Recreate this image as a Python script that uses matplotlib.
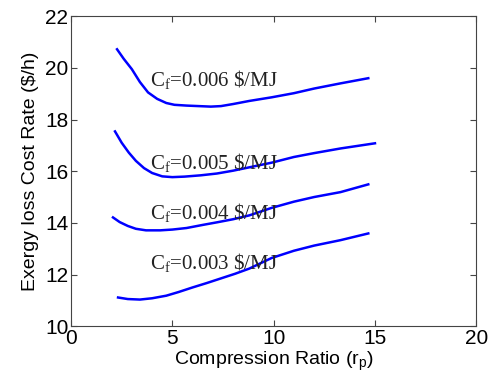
import matplotlib
matplotlib.use("Agg")
import matplotlib.pyplot as plt

# values
x_006 = [2.27, 2.6, 3.0, 3.4, 3.8, 4.25, 4.7, 5.1, 5.7, 6.3, 6.9, 7.4, 8.0, 8.8, 9.9, 11.0, 12.0, 13.3, 14.67]
y_006 = [20.72, 20.35, 19.95, 19.45, 19.05, 18.80, 18.64, 18.57, 18.54, 18.52, 18.50, 18.52, 18.60, 18.72,
         18.86, 19.02, 19.20, 19.40, 19.60]

x_005 = [2.17, 2.5, 2.85, 3.2, 3.6, 4.0, 4.5, 5.0, 5.6, 6.4, 7.2, 8.0, 8.8, 9.9, 11.0, 12.0, 13.3, 15.0]
y_005 = [17.54, 17.10, 16.72, 16.40, 16.12, 15.93, 15.80, 15.77, 15.79, 15.84, 15.91, 16.02, 16.15, 16.33,
         16.55, 16.70, 16.88, 17.08]

x_004 = [2.07, 2.4, 2.8, 3.2, 3.7, 4.4, 5.0, 5.7, 6.5, 7.2, 8.0, 8.8, 9.9, 11.0, 12.0, 13.3, 14.67]
y_004 = [14.21, 14.03, 13.88, 13.77, 13.71, 13.71, 13.74, 13.80, 13.92, 14.02, 14.14, 14.29, 14.58, 14.82,
         15.0, 15.19, 15.49]

x_003 = [2.32, 2.8, 3.4, 4.0, 4.7, 5.3, 6.0, 6.7, 7.4, 8.1, 8.8, 9.9, 11.0, 12.0, 13.3, 14.67]
y_003 = [11.11, 11.05, 11.03, 11.08, 11.18, 11.32, 11.50, 11.67, 11.85, 12.03, 12.23, 12.64, 12.92, 13.12,
         13.33, 13.59]

labels = ["0.006", "0.005", "0.004", "0.003"]
label_y = [19.52, 16.3, 14.36, 12.43]

fig = plt.figure(figsize=(4.9, 3.86), dpi=100)
ax = fig.add_axes([0.145, 0.155, 0.827, 0.803])

for xs, ys in [(x_006, y_006), (x_005, y_005), (x_004, y_004), (x_003, y_003)]:
    ax.plot(xs, ys, color="#0000ff", lw=1.8, solid_joinstyle="round")

for lab, ly in zip(labels, label_y):
    ax.text(3.9, ly, r"C$_\mathregular{f}$=" + lab + r" \$/MJ", family="Liberation Serif",
            fontsize=15, va="center", ha="left", color="#222222")

ax.set_xlim(0, 20)
ax.set_ylim(10, 22)
ax.set_xticks([0, 5, 10, 15, 20])
ax.set_yticks([10, 12, 14, 16, 18, 20, 22])
ax.tick_params(direction="in", top=True, right=True, labelsize=15, length=4,
               color="#444444", pad=2)
for t in ax.get_xticklabels() + ax.get_yticklabels():
    t.set_family("Liberation Sans")
for s in ax.spines.values():
    s.set_color("#444444")

ax.set_xlabel(r"Compression Ratio (r$_\mathregular{p}$)", family="Liberation Sans", fontsize=14, labelpad=1)
ax.set_ylabel("Exergy loss Cost Rate ($/h)", family="Liberation Sans", fontsize=14, labelpad=4)

fig.savefig("out.png", dpi=100)
